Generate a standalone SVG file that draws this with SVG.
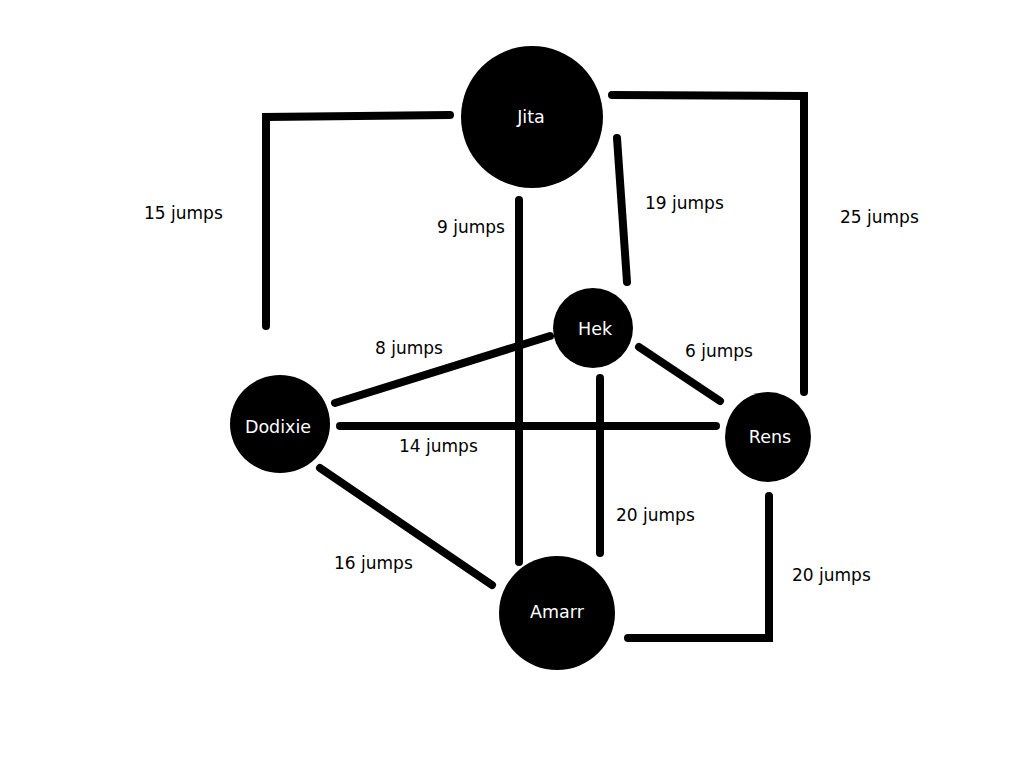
<svg xmlns="http://www.w3.org/2000/svg" width="1024" height="768" viewBox="0 0 1024 768">
<style>
.e{fill:none;stroke:#000;stroke-width:8;stroke-linecap:round;stroke-linejoin:miter}
.n{fill:#000}
.nl{font-family:"DejaVu Sans",sans-serif;font-size:17.5px;fill:#fff;text-anchor:middle}
.l{font-family:"DejaVu Sans",sans-serif;font-size:17px;fill:#000}
</style>
<rect width="1024" height="768" fill="#fff"/>
<g id="connectors">
<polyline class="e" points="450,115 358,116 266,117 266,326"/>
<polyline class="e" points="612,95 804,96 804,392"/>
<line class="e" x1="617" y1="138" x2="627" y2="282"/>
<line class="e" x1="519" y1="200" x2="519" y2="562"/>
<line class="e" x1="335" y1="403" x2="550" y2="336"/>
<line class="e" x1="639" y1="347" x2="720" y2="401"/>
<line class="e" x1="340" y1="426" x2="716" y2="426"/>
<line class="e" x1="600" y1="378" x2="600" y2="553"/>
<line class="e" x1="320" y1="468" x2="492" y2="585"/>
<polyline class="e" points="769,496 769,638 628,638"/>
<text class="l" x="144" y="219">15 jumps</text>
<text class="l" x="437" y="233">9 jumps</text>
<text class="l" x="645" y="209">19 jumps</text>
<text class="l" x="840" y="223">25 jumps</text>
<text class="l" x="375" y="354">8 jumps</text>
<text class="l" x="685" y="357">6 jumps</text>
<text class="l" x="399" y="452">14 jumps</text>
<text class="l" x="616" y="521">20 jumps</text>
<text class="l" x="334" y="569">16 jumps</text>
<text class="l" x="792" y="581">20 jumps</text>
</g>
<g id="jita"><ellipse class="n" cx="532" cy="117" rx="71" ry="71"/><text class="nl" x="531" y="123">Jita</text></g>
<g id="hek"><ellipse class="n" cx="593" cy="328" rx="40" ry="40"/><text class="nl" x="595" y="335">Hek</text></g>
<g id="dodixie"><ellipse class="n" cx="280" cy="424" rx="50" ry="49"/><text class="nl" x="278" y="433">Dodixie</text></g>
<g id="rens"><ellipse class="n" cx="768" cy="437" rx="43" ry="45"/><text class="nl" x="770" y="443">Rens</text></g>
<g id="amarr"><ellipse class="n" cx="557" cy="613" rx="58" ry="57"/><text class="nl" x="557" y="618">Amarr</text></g>
</svg>
